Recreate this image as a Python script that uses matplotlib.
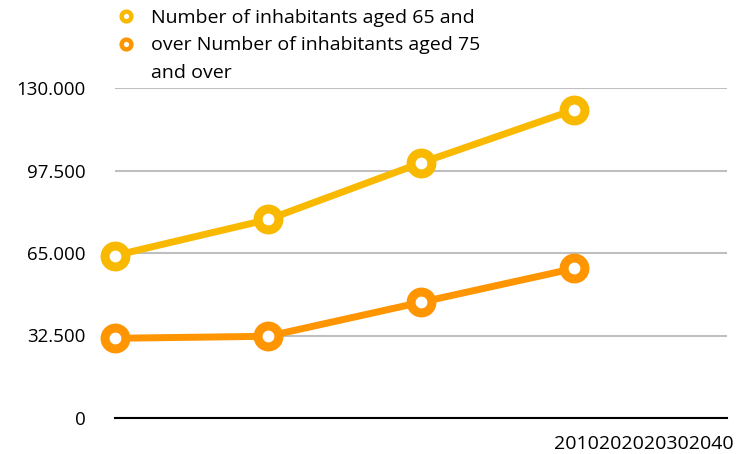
import matplotlib
matplotlib.use("Agg")
import matplotlib.pyplot as plt
from matplotlib.lines import Line2D
from matplotlib.ticker import FuncFormatter

years = ["2010", "2020", "2030", "2040"]
aged_65_plus = [64000, 78200, 100500, 121400]
aged_75_plus = [31400, 32200, 45600, 58900]
series_labels = ["Number of inhabitants aged 65 and over",
                 "Number of inhabitants aged 75 and over"]
legend_lines = ["Number of inhabitants aged 65 and",
                "over Number of inhabitants aged 75",
                "and over"]
y_ticks = [0, 32500, 65000, 97500, 130000]

YELLOW = "#F9B900"
ORANGE = "#FF9500"

plt.rcParams["font.family"] = ["Open Sans", "DejaVu Sans"]

fig = plt.figure(figsize=(7.42, 4.54), dpi=100)
ax = fig.add_axes([115 / 742, 1 - 418 / 454, 612 / 742, 330 / 454])

x = list(range(len(years)))
for values, color, label in [(aged_65_plus, YELLOW, series_labels[0]),
                             (aged_75_plus, ORANGE, series_labels[1])]:
    ax.plot(x, values, color=color, linewidth=5, marker="o", markersize=15,
            markerfacecolor="white", markeredgecolor=color, markeredgewidth=6.5,
            label=label, clip_on=False, zorder=3)

ax.set_xlim(0, len(years))
ax.set_ylim(0, 130000)
ax.set_yticks(y_ticks)
ax.yaxis.set_major_formatter(FuncFormatter(lambda v, _: f"{v:,.0f}".replace(",", ".")))
ax.tick_params(axis="y", length=0, pad=21, labelsize=13.5)
ax.set_xticks([])
ax.grid(axis="y", color="#BFBFBF", linewidth=1.5)
ax.set_axisbelow(True)
for side in ["top", "right", "left"]:
    ax.spines[side].set_visible(False)
ax.spines["bottom"].set_color("black")
ax.spines["bottom"].set_linewidth(1.5)
ax.spines["bottom"].set_zorder(2)

# category labels end up squeezed together at the right
fig.text(644 / 742, 1 - 444 / 454, "".join(years), ha="center", va="center", fontsize=14)

handles = [
    Line2D([], [], linestyle="none", marker="o", markersize=7, markerfacecolor="white",
           markeredgecolor=YELLOW, markeredgewidth=3.2),
    Line2D([], [], linestyle="none", marker="o", markersize=7, markerfacecolor="white",
           markeredgecolor=ORANGE, markeredgewidth=3.2),
    Line2D([], [], linestyle="none"),
]
fig.legend(handles, legend_lines, loc="upper left", bbox_to_anchor=(118 / 742, 1 - 9 / 454),
           frameon=False, fontsize=14, handlelength=0.8, handletextpad=0.9,
           labelspacing=0.48, borderpad=0, borderaxespad=0)

fig.savefig("out.png", dpi=100)
